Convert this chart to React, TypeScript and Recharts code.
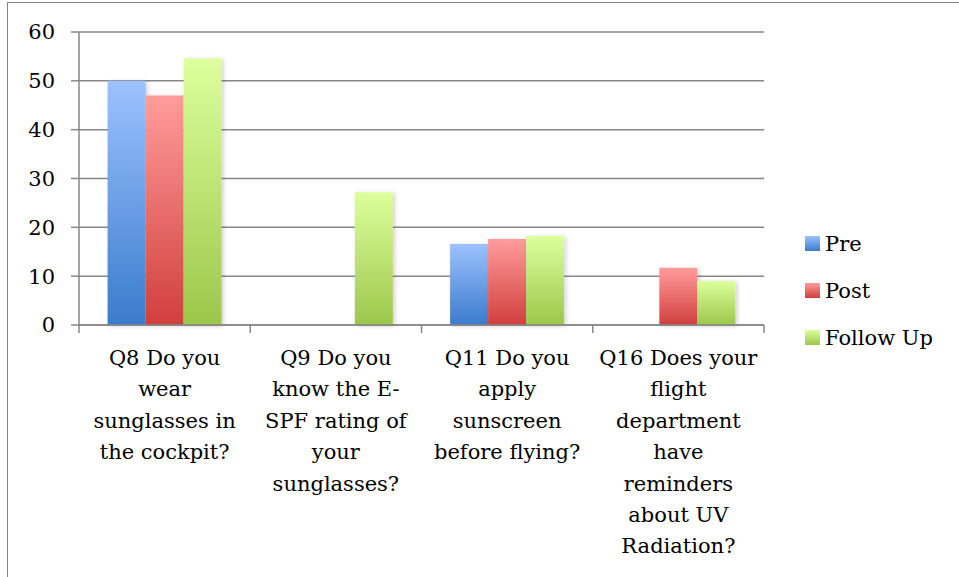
import { Bar, BarChart, CartesianGrid, XAxis, YAxis } from 'recharts'

const categories = [
  'Q8 Do you\nwear\nsunglasses in\nthe cockpit?',
  'Q9 Do you\nknow the E-\nSPF rating of\nyour\nsunglasses?',
  'Q11 Do you\napply\nsunscreen\nbefore flying?',
  'Q16 Does your\nflight\ndepartment\nhave\nreminders\nabout UV\nRadiation?',
]
const pre = [50, null, 16.6, null]
const post = [47.0, null, 17.6, 11.7]
const followUp = [54.6, 27.2, 18.2, 9.0]
const yTicks = [0, 10, 20, 30, 40, 50, 60]

const data = categories.map((name, i) => ({
  name,
  pre: pre[i],
  post: post[i],
  followUp: followUp[i],
}))

const W = 959
const H = 577
const MARGIN = { top: 32, right: 195, left: 0, bottom: 12 }
const Y_AXIS_W = 79
const BAND = (W - MARGIN.left - MARGIN.right - Y_AXIS_W) / categories.length
const AXIS = '#878787'
const FONT = '"DejaVu Serif", serif'
const FS = 21

const series = [
  { key: 'pre', name: 'Pre', top: '#9cc2ff', bottom: '#3b7bcc' },
  { key: 'post', name: 'Post', top: '#ff9c9b', bottom: '#d13f3d' },
  { key: 'followUp', name: 'Follow Up', top: '#ddff9c', bottom: '#9cc74a' },
]

function CategoryTick(props: any) {
  const { x, y, payload, index } = props
  const lines = String(payload.value).split('\n')
  const half = BAND / 2
  return (
    <g>
      <line x1={x + half} x2={x + half} y1={y} y2={y + 8} stroke={AXIS} strokeWidth={1.5} />
      {index === 0 && <line x1={x - half} x2={x - half} y1={y} y2={y + 8} stroke={AXIS} strokeWidth={1.5} />}
      <text x={x} y={y} textAnchor="middle" fontSize={FS} fontFamily={FONT} fill="#000">
        {lines.map((l, i) => (
          <tspan key={i} x={x} y={y + 40 + i * 31.4}>
            {l}
          </tspan>
        ))}
      </text>
    </g>
  )
}

function LegendBox() {
  return (
    <div style={{ position: 'absolute', left: 805, top: 220, fontFamily: FONT, fontSize: FS, color: '#000' }}>
      {series.map((s) => (
        <div key={s.key} style={{ display: 'flex', alignItems: 'center', height: 47 }}>
          <div
            style={{
              width: 15,
              height: 15,
              marginRight: 5,
              background: `linear-gradient(${s.top}, ${s.bottom})`,
            }}
          />
          <span>{s.name}</span>
        </div>
      ))}
    </div>
  )
}

export default function App() {
  return (
    <div style={{ position: 'absolute', left: 0, top: 0, width: W, height: H, overflow: 'hidden', background: '#fff' }}>
      <div
        style={{
          position: 'absolute',
          left: 7,
          top: 2,
          width: W,
          height: H,
          borderTop: `1.5px solid ${AXIS}`,
          borderLeft: `1.5px solid ${AXIS}`,
        }}
      />
      <div style={{ position: 'absolute', left: 0, top: 0 }}>
        <BarChart width={W} height={H} data={data} margin={MARGIN} barGap={0} barCategoryGap="16.7%">
          <defs>
            {series.map((s) => (
              <linearGradient key={s.key} id={`grad-${s.key}`} x1="0" y1="0" x2="0" y2="1">
                <stop offset="0%" stopColor={s.top} />
                <stop offset="100%" stopColor={s.bottom} />
              </linearGradient>
            ))}
            <filter id="barShadow" x="-20%" y="-10%" width="140%" height="120%">
              <feDropShadow dx="2" dy="1" stdDeviation="2" floodColor="#000" floodOpacity="0.18" />
            </filter>
          </defs>
          <CartesianGrid vertical={false} stroke={AXIS} strokeWidth={1.5} />
          <XAxis
            dataKey="name"
            interval={0}
            height={240}
            tickLine={false}
            tickSize={0}
            tickMargin={0}
            axisLine={{ stroke: AXIS, strokeWidth: 1.5 }}
            tick={<CategoryTick />}
          />
          <YAxis
            width={Y_AXIS_W}
            domain={[0, 60]}
            ticks={yTicks}
            interval={0}
            tickSize={8}
            tickMargin={16}
            axisLine={{ stroke: AXIS, strokeWidth: 1.5 }}
            tickLine={{ stroke: AXIS, strokeWidth: 1.5 }}
            tick={{ fontSize: FS, fontFamily: FONT, fill: '#000' }}
          />
          {series.map((s) => (
            <Bar
              key={s.key}
              dataKey={s.key}
              name={s.name}
              fill={`url(#grad-${s.key})`}
              filter="url(#barShadow)"
              isAnimationActive={false}
            />
          ))}
        </BarChart>
      </div>
      <LegendBox />
    </div>
  )
}
